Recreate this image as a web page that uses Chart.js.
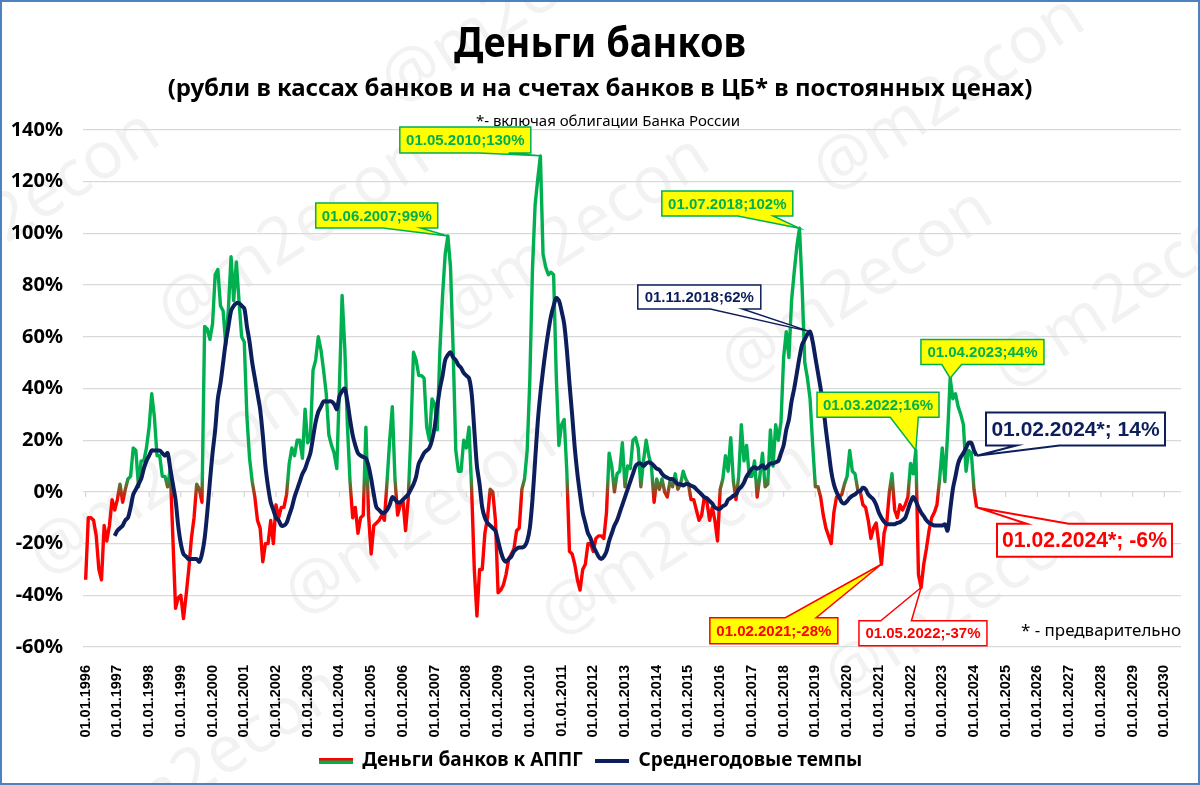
<!DOCTYPE html>
<html lang="ru">
<head>
<meta charset="UTF-8">
<title>Деньги банков</title>
<script src="https://cdn.jsdelivr.net/npm/chart.js"></script>
<style>
    html, body { margin: 0; padding: 0; background: #fff; }
    .wrap { position: relative; width: 1200px; height: 785px; }
</style>
</head>
<body>
<div class="wrap"><canvas id="chart"></canvas></div>
<script>
    // подписи оси X (01.01 каждого года)
    const yearLabels = [
        '01.01.1996', '01.01.1997', '01.01.1998', '01.01.1999', '01.01.2000', '01.01.2001', '01.01.2002',
        '01.01.2003', '01.01.2004', '01.01.2005', '01.01.2006', '01.01.2007', '01.01.2008', '01.01.2009',
        '01.01.2010', '01.01.2011', '01.01.2012', '01.01.2013', '01.01.2014', '01.01.2015', '01.01.2016',
        '01.01.2017', '01.01.2018', '01.01.2019', '01.01.2020', '01.01.2021', '01.01.2022', '01.01.2023',
        '01.01.2024', '01.01.2025', '01.01.2026', '01.01.2027', '01.01.2028', '01.01.2029', '01.01.2030'
    ];

    // Деньги банков к АППГ, %, помесячно с 01.1996 по 02.2024
    const bankMoney = [
        -34, -10, -10, -11, -17, -30, -34, -13, -19, -13, -3, -7,      // 1996
        -3, 3, -4, 1, 5, 6, 17, 16, 2, 12, 12, 17,                     // 1997
        25, 38, 29, 14, 14, 6, 6, 2, 9, -18, -45, -41,                 // 1998
        -40, -49, -40, -30, -18, -10, 3, 1, -4, 64, 63, 59,            // 1999
        65, 84, 86, 72, 70, 57, 71, 91, 74, 89, 74, 60,                // 2000
        58, 29, 13, 4, -2, -11, -14, -27, -20, -20, -11, -20,          // 2001
        -5, -10, -6, -6, -1, 11, 17, 14, 20, 20, 13, 32,               // 2002
        19, 21, 47, 51, 60, 55, 47, 38, 22, 18, 15, 9,                 // 2003
        41, 76, 56, 26, 4, -10, -6, -16, -10, -9, 25, -9,              // 2004
        -24, -13, -12, -11, -9, -11, 4, 20, 33, 5, -9, -5,             // 2005
        -3, -15, -3, 22, 54, 51, 45, 45, 44, 25, 20, 36,               // 2006
        34, 24, 55, 76, 92, 99, 87, 55, 16, 8, 8, 20,                  // 2007
        17, 25, 1, -30, -48, -30, -30, -16, -10, 1, 0, -11,            // 2008
        -39, -38, -36, -32, -26, -24, -22, -15, -14, 1, 5, 16,         // 2009
        43, 86, 111, 121, 130, 92, 87, 84, 85, 84, 45, 18,             // 2010
        26, 28, 8, -23, -24, -28, -34, -38, -30, -28, -20, -20,        // 2011
        -23, -18, -17, -17, -18, -8, 15, 10, 0, 7, 8, 19,              // 2012
        2, 10, 9, 20, 21, 17, 2, 12, 20, 14, 10, -4,                   // 2013
        5, 1, 5, 0, -2, 4, 2, 7, 1, 3, 8, 5,                           // 2014
        3, -3, -3, -7, -11, -9, -2, -4, -11, -6, -11, -19,             // 2015
        1, 5, 14, 8, 21, 4, -3, 6, 26, 12, 18, 6,                      // 2016
        6, 12, -2, 6, 15, 2, 3, 24, 10, 26, 20, 27,                    // 2017
        52, 62, 52, 74, 85, 95, 102, 79, 50, 44, 36, 18,               // 2018
        2, 2, -2, -9, -14, -17, -20, -8, -2, -2, -1, 3,                // 2019
        6, 16, 8, 7, 1, 0, -5, -6, -11, -18, -14, -12,                 // 2020
        -20, -28, -16, -12, 0, 7, -7, -10, -5, -7, -5, -2,             // 2021
        11, 7, 16, -32, -37, -28, -22, -15, -10, -8, -5, 5,            // 2022
        17, 4, 22, 44, 36, 38, 33, 30, 26, 8, 16, 15,                  // 2023
        1, -6                                                          // 2024
    ];

    // Среднегодовые темпы, %, помесячно с 12.1996 по 02.2024
    const AVG_START = 11;
    const avgGrowth = [
        -17,                                                           // 12.1996
        -15, -14, -13, -11, -10, -6, -1, 1, 3, 5, 9, 12,               // 1997
        14, 16, 16, 16, 16, 15, 14, 15, 9, 3, -3, -13,                 // 1998
        -20, -24, -25, -26, -26, -26, -26, -27, -24, -18, -8, 4,       // 1999
        15, 24, 36, 42, 50, 58, 64, 70, 72, 73, 73, 72,                // 2000
        71, 64, 58, 50, 44, 38, 32, 22, 10, 2, -4, -7,                 // 2001
        -10, -11, -13, -13, -12, -9, -6, -2, 1, 4, 7, 9,               // 2002
        12, 15, 21, 27, 31, 33, 35, 35, 35, 35, 34, 32,                // 2003
        37, 39, 40, 35, 28, 22, 18, 15, 14, 13.5, 13, 10,              // 2004
        5, -1, -6, -7, -8, -8, -7, -5, -2, -3, -4, -4,                 // 2005
        -3, -2, -1, 1, 3, 6, 11, 13, 15, 16, 17, 20,                   // 2006
        25, 33, 40, 45, 51, 53, 54, 52, 51, 49, 48, 46,                // 2007
        45, 44, 38, 24, 10, 3, -6, -10, -12, -13, -14, -15,            // 2008
        -19, -23, -26, -27, -26, -25, -23, -22, -21.5, -21.5, -21, -19, // 2009
        -14, -3, 12, 27, 38, 47, 55, 62, 68, 72, 75, 74,               // 2010
        70, 65, 55, 42, 30, 17, 7, -1, -8, -12, -16, -18,              // 2011
        -21, -23, -25, -26, -25, -23, -19, -16, -13, -11, -8, -5,      // 2012
        -2, 1, 4, 7, 10, 11, 11, 10, 11, 11.5, 11, 10,                 // 2013
        9, 8.5, 7, 6, 5.5, 5, 5, 4, 3, 3, 2.5, 3,                      // 2014
        3, 2.4, 2, 1, 0, -1, -2, -2.5, -3.5, -4.5, -6, -6.5,           // 2015
        -6.5, -5.5, -5, -3, -2.3, -1.5, -1, 1, 2, 3.6, 6, 7.5,         // 2016
        9, 9.5, 9, 9.5, 10.3, 9, 10, 11, 11, 11.5, 12, 15,             // 2017
        18, 24, 28, 35, 40, 46, 52, 57, 59, 61, 62, 58,                // 2018
        52, 46, 40, 33, 24, 16, 8, 3, 0, -2, -4, -4.5,                 // 2019
        -3.6, -2.3, -1.5, -1, 0, 0.3, 1.6, 1, -1, -2, -3, -5,          // 2020
        -8, -10, -11.5, -12.5, -12.5, -12.5, -12.5, -12, -11.7, -11, -10, -7, // 2021
        -4, -2, -3.6, -6, -8, -9.4, -11, -12, -12.5, -13, -13, -13,    // 2022
        -13, -12.5, -15, -7, 1, 6, 11, 13.5, 15, 17, 19, 19,           // 2023
        16, 14                                                         // 2024
    ];

    const FONT = '"Noto Sans", "Open Sans", sans-serif';
    const NUM_FONT = '"Liberation Sans", Arial, sans-serif';
    const GREEN = '#00b050';
    const RED = '#ff0000';
    const NAVY = '#0c1f5c';
    const YELLOW = '#ffff00';

    // выноски: месяц точки, центр рамки в единицах осей, размер рамки
    const callouts = [
        { series: 'bank', month: 172, text: '01.05.2010;130%', bx: 143.6, by: 136.1, w: 131, h: 26, size: 15, fill: YELLOW, color: GREEN, side: 'bottom', base: [0.6, 0.83] },
        { series: 'bank', month: 137, text: '01.06.2007;99%', bx: 110.1, by: 106.9, w: 122, h: 25, size: 15, fill: YELLOW, color: GREEN, side: 'bottom', base: [0.55, 0.86] },
        { series: 'bank', month: 270, text: '01.07.2018;102%', bx: 242.7, by: 111.6, w: 131, h: 25, size: 15, fill: YELLOW, color: GREEN, side: 'bottom', base: [0.58, 0.85] },
        { series: 'avg', month: 274, text: '01.11.2018;62%', bx: 232.1, by: 75.4, w: 123, h: 24, size: 15, fill: '#ffffff', color: NAVY, side: 'bottom', base: [0.59, 0.85] },
        { series: 'bank', month: 327, text: '01.04.2023;44%', bx: 339.2, by: 54.1, w: 123, h: 25, size: 15, fill: YELLOW, color: GREEN, side: 'bottom', base: [0.17, 0.33] },
        { series: 'bank', month: 314, text: '01.03.2022;16%', bx: 299.7, by: 33.7, w: 122, h: 25, size: 15, fill: YELLOW, color: GREEN, side: 'bottom', base: [0.6, 0.83] },
        { series: 'bank', month: 301, text: '01.02.2021;-28%', bx: 260.3, by: -53.7, w: 128, h: 26, size: 15, fill: YELLOW, color: RED, side: 'top', base: [0.59, 0.83] },
        { series: 'bank', month: 316, text: '01.05.2022;-37%', bx: 316.7, by: -54.7, w: 128, h: 25, size: 15, fill: '#ffffff', color: RED, side: 'top', base: [0.17, 0.41] },
        { series: 'avg', month: 337, text: '01.02.2024*; 14%', bx: 374.4, by: 24.3, w: 179, h: 33, size: 21, fill: '#ffffff', color: NAVY, side: 'bottom', base: [0.17, 0.41], lw: 2 },
        { series: 'bank', month: 337, text: '01.02.2024*; -6%', bx: 377.8, by: -18.7, w: 175, h: 33, size: 22, fill: '#ffffff', color: RED, side: 'top', base: [0.17, 0.41], lw: 2 }
    ];

    // водяные знаки
    const marks = [[-95, 310], [175, 335], [398, 107], [455, 335], [738, 388], [830, 195], [1010, 392],
        [46, 579], [302, 619], [558, 640], [842, 702], [88, 866]];

    function fitText(ctx, text, x, y, maxW, align) {
        const w = ctx.measureText(text).width;
        const k = Math.min(1, maxW / w);
        ctx.save();
        ctx.translate(x, y);
        ctx.scale(k, 1);
        ctx.textAlign = align || 'center';
        ctx.fillText(text, 0, 0);
        ctx.restore();
    }

    function lineIcon(colors, w, h) {
        const c = document.createElement('canvas');
        c.width = w;
        c.height = h * colors.length;
        const g = c.getContext('2d');
        colors.forEach((col, i) => { g.fillStyle = col; g.fillRect(0, i * h, w, h); });
        return c;
    }
    const legendIcons = [lineIcon([RED, GREEN], 34, 3), lineIcon([NAVY, NAVY], 34, 2)];

    function bankGradient(context) {
        const chart = context.chart;
        if (!chart.chartArea) return GREEN;
        const y = chart.scales.y;
        const g = chart.ctx.createLinearGradient(0, y.getPixelForValue(6), 0, y.getPixelForValue(-3));
        g.addColorStop(0, GREEN);
        g.addColorStop(1, RED);
        return g;
    }

    const watermarkPlugin = {
        id: 'watermark',
        beforeDraw(chart) {
            const ctx = chart.ctx;
            ctx.save();
            ctx.font = '66px ' + FONT;
            ctx.fillStyle = 'rgba(0,0,0,0.05)';
            ctx.textBaseline = 'alphabetic';
            marks.forEach(([x, y]) => {
                ctx.save();
                ctx.translate(x, y);
                ctx.rotate(-33 * Math.PI / 180);
                ctx.fillText('@m2econ', 0, 0);
                ctx.restore();
            });
            ctx.restore();
        }
    };

    const axisTicksPlugin = {
        id: 'zeroTicks',
        beforeDatasetsDraw(chart) {
            const { ctx, scales: { x, y } } = chart;
            const y0 = y.getPixelForValue(0);
            ctx.save();
            ctx.strokeStyle = '#d9d9d9';
            ctx.lineWidth = 1.3;
            yearLabels.forEach((_, i) => {
                const px = x.getPixelForValue(i * 12);
                ctx.beginPath();
                ctx.moveTo(px, y0);
                ctx.lineTo(px, y0 + 5);
                ctx.stroke();
            });
            ctx.restore();
        }
    };

    const calloutPlugin = {
        id: 'callouts',
        afterDatasetsDraw(chart) {
            const { ctx, scales: { x, y } } = chart;
            callouts.forEach(c => {
                const src = c.series === 'bank' ? bankMoney : avgGrowth;
                const off = c.series === 'bank' ? 0 : AVG_START;
                const tipX = x.getPixelForValue(c.month);
                const tipY = y.getPixelForValue(src[c.month - off]);
                const cx = x.getPixelForValue(c.bx), cy = y.getPixelForValue(c.by);
                const x0 = cx - c.w / 2, x1 = cx + c.w / 2, y0 = cy - c.h / 2, y1 = cy + c.h / 2;
                const b1 = x0 + c.w * c.base[0], b2 = x0 + c.w * c.base[1];

                ctx.save();
                ctx.beginPath();
                if (c.side === 'bottom') {
                    ctx.moveTo(x0, y0); ctx.lineTo(x1, y0); ctx.lineTo(x1, y1);
                    ctx.lineTo(b2, y1); ctx.lineTo(tipX, tipY); ctx.lineTo(b1, y1); ctx.lineTo(x0, y1);
                } else {
                    ctx.moveTo(x0, y0); ctx.lineTo(b1, y0); ctx.lineTo(tipX, tipY); ctx.lineTo(b2, y0);
                    ctx.lineTo(x1, y0); ctx.lineTo(x1, y1); ctx.lineTo(x0, y1);
                }
                ctx.closePath();
                ctx.fillStyle = c.fill;
                ctx.fill();
                ctx.lineWidth = c.lw || 1.5;
                ctx.lineJoin = 'miter';
                ctx.strokeStyle = c.color;
                ctx.stroke();

                ctx.fillStyle = c.color;
                ctx.font = 'bold ' + c.size + 'px ' + NUM_FONT;
                ctx.textBaseline = 'middle';
                fitText(ctx, c.text, cx, cy + 1, c.w - 10, 'center');
                ctx.restore();
            });
        }
    };

    const textsPlugin = {
        id: 'texts',
        afterDraw(chart) {
            const ctx = chart.ctx;
            ctx.save();
            ctx.fillStyle = '#000';
            ctx.textBaseline = 'alphabetic';
            ctx.font = 'bold 42px ' + FONT;
            fitText(ctx, 'Деньги банков', 600, 57, 292, 'center');
            ctx.font = 'bold 24px ' + FONT;
            fitText(ctx, '(рубли в кассах банков и на счетах банков в ЦБ* в постоянных ценах)', 600, 96, 886, 'center');
            ctx.font = '15px ' + FONT;
            fitText(ctx, '*- включая облигации Банка России', 608, 126, 275, 'center');
            ctx.font = '17px ' + FONT;
            fitText(ctx, '* - предварительно', 1181, 636, 160, 'right');

            // рамка рисунка
            ctx.strokeStyle = '#4f81bd';
            ctx.lineWidth = 2;
            ctx.strokeRect(1, 1, 1198, 783);
            ctx.restore();
        }
    };

    new Chart(document.getElementById('chart'), {
        type: 'line',
        data: {
            datasets: [
                {
                    label: 'Деньги банков к АППГ',
                    data: bankMoney.map((v, i) => ({ x: i, y: v })),
                    borderColor: bankGradient,
                    borderWidth: 3.4,
                    borderJoinStyle: 'round',
                    pointRadius: 0,
                    tension: 0,
                    order: 2
                },
                {
                    label: 'Среднегодовые темпы',
                    data: avgGrowth.map((v, i) => ({ x: i + AVG_START, y: v })),
                    borderColor: NAVY,
                    borderWidth: 4,
                    borderJoinStyle: 'round',
                    pointRadius: 0,
                    tension: 0.3,
                    order: 1
                }
            ]
        },
        options: {
            responsive: true,
            maintainAspectRatio: false,
            animation: false,
            devicePixelRatio: 1,
            layout: { padding: { top: 130, right: 19, bottom: 5, left: 0 } },
            plugins: {
                tooltip: { enabled: false },
                legend: {
                    position: 'bottom',
                    labels: {
                        usePointStyle: true,
                        pointStyleWidth: 34,
                        padding: 12,
                        color: '#000',
                        font: { family: FONT, size: 19, weight: 'bold' },
                        generateLabels: chart => chart.data.datasets.map((ds, i) => ({
                            text: ds.label,
                            pointStyle: legendIcons[i],
                            fillStyle: 'transparent',
                            strokeStyle: 'transparent',
                            lineWidth: 0,
                            datasetIndex: i,
                            hidden: false
                        }))
                    }
                }
            },
            scales: {
                x: {
                    type: 'linear',
                    min: -1,
                    max: 414.3,
                    afterBuildTicks: s => { s.ticks = yearLabels.map((_, i) => ({ value: i * 12 })); },
                    afterFit: s => { s.height = 92; },
                    grid: { display: false },
                    border: { display: false },
                    ticks: {
                        autoSkip: false,
                        minRotation: 90,
                        maxRotation: 90,
                        padding: 10,
                        color: '#000',
                        font: { family: NUM_FONT, size: 14.5, weight: 'bold' },
                        callback: (v, i) => yearLabels[i]
                    }
                },
                y: {
                    min: -60,
                    max: 140,
                    afterFit: s => { s.width = 83; },
                    grid: { color: '#d9d9d9', lineWidth: 1.3, drawTicks: false },
                    border: { display: false },
                    ticks: {
                        stepSize: 20,
                        padding: 20,
                        color: '#000',
                        font: { family: FONT, size: 20, weight: 'bold' },
                        callback: v => v + '%'
                    }
                }
            }
        },
        plugins: [watermarkPlugin, axisTicksPlugin, calloutPlugin, textsPlugin]
    });
</script>
</body>
</html>
